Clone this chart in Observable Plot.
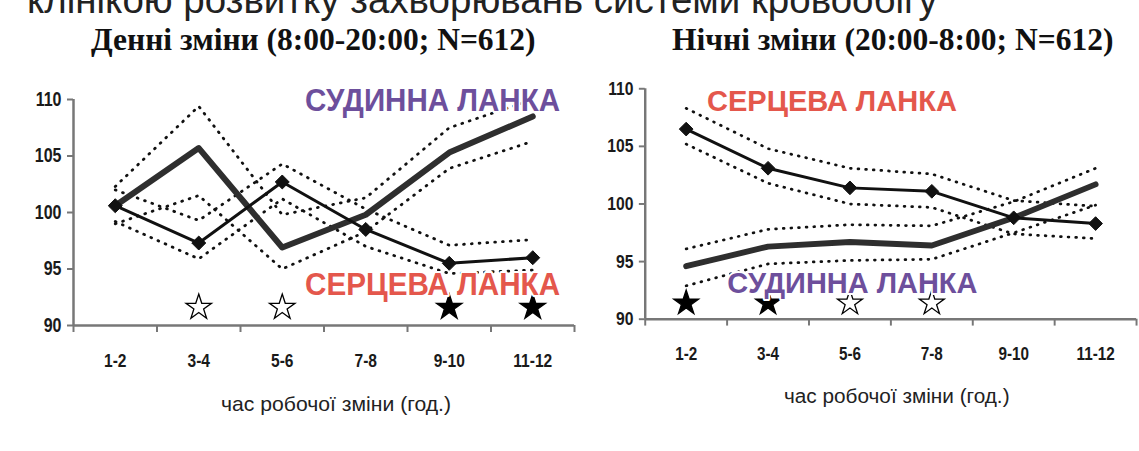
<!DOCTYPE html>
<html><head><meta charset="utf-8">
<script src="https://cdn.jsdelivr.net/npm/d3@7"></script>
<script src="https://cdn.jsdelivr.net/npm/@observablehq/plot@0.6"></script>
<style>
body{margin:0;width:1139px;height:451px;overflow:hidden;background:#fff;position:relative}
.panel{position:absolute;top:0}
.title{position:absolute;font-family:"Liberation Serif","Times New Roman",serif;font-weight:bold;font-size:31.5px;color:#111;white-space:nowrap;line-height:32px}
.top{position:absolute;top:-19px;left:27px;font-family:"Liberation Sans",Arial,sans-serif;font-size:38.5px;color:#222;white-space:nowrap;line-height:38px}
</style></head><body>
<div class="top">клінікою розвитку захворювань системи кровообігу</div>
<div class="title" style="left:91px;top:24px">Денні зміни (8:00-20:00; N=612)</div>
<div class="title" style="left:672px;top:24px">Нічні зміни (20:00-8:00; N=612)</div>
<div id="left" class="panel" style="left:0"></div>
<div id="right" class="panel" style="left:580px"></div>
<script>
const hours = ["1-2","3-4","5-6","7-8","9-10","11-12"];
const yTicks = [90,95,100,105,110];
const xTitle = "час робочої зміни (год.)";
const heartName = "СЕРЦЕВА ЛАНКА";
const vesselName = "СУДИННА ЛАНКА";

// Day shifts
const dayHeart   = [100.6, 97.3, 102.7, 98.5, 95.5, 96.0];
const dayHeartUp = [102.0, 99.3, 104.3, 100.3, 97.1, 97.6];
const dayHeartLo = [99.2, 95.9, 101.2, 97.0, 94.6, 94.9];
const dayVessel   = [100.6, 105.7, 96.9, 99.8, 105.3, 108.5];
const dayVesselUp = [102.3, 109.4, 99.8, 101.3, 107.5, 110.0];
const dayVesselLo = [99.0, 101.5, 95.0, 98.3, 103.9, 106.3];
const dayStars = ["", "open", "open", "", "filled", "filled"];

// Night shifts
const nightHeart   = [106.5, 103.1, 101.4, 101.1, 98.8, 98.3];
const nightHeartUp = [108.3, 104.8, 103.1, 102.6, 100.3, 99.8];
const nightHeartLo = [105.2, 101.8, 100.0, 99.7, 97.4, 97.0];
const nightVessel   = [94.6, 96.3, 96.7, 96.4, 98.8, 101.7];
const nightVesselUp = [96.1, 97.8, 98.2, 98.1, 100.2, 103.1];
const nightVesselLo = [92.9, 94.8, 95.1, 95.2, 97.5, 99.9];
const nightStars = ["filled", "filled", "open", "open", "", ""];

const RED = "#e4574c", PURPLE = "#6d4f9c";
const sans = '"Liberation Sans",Arial,sans-serif';

function rows(arr){ return arr.map((v,i)=>({x:i+1, v})); }

function panel(o){
  const dotted = {x:"x", y:"v", stroke:"#111", strokeWidth:2.8, strokeDasharray:"0.8,7", strokeLinecap:"round"};
  const starRows = o.stars.map((s,i)=>({x:i+1, s})).filter(d=>d.s);
  return Plot.plot({
    width:o.width, height:451,
    marginLeft:o.ml, marginRight:o.mr, marginTop:o.mt, marginBottom:126,
    x:{domain:[0.5,6.5]},
    y:{domain:[90,110]},
    style:{fontFamily:sans, fontSize:"19px", color:"#1a1a1a", background:"transparent", overflow:"visible"},
    marks:[
      Plot.axisY({ticks:yTicks, tickSize:6, tickPadding:6, label:null, stroke:"#777", strokeWidth:2, fontSize:19.5, fontWeight:"bold", className:"cond"}),
      Plot.axisX({ticks:d3.range(0.5,7,1), tickSize:7, tickFormat:()=>"", label:null, stroke:"#777", strokeWidth:2}),
      Plot.axisX({ticks:[1,2,3,4,5,6], tickSize:0, tickPadding:28, tickFormat:i=>hours[i-1], label:null, fontSize:19, fontWeight:"bold", className:"cond"}),
      Plot.ruleX([0.5], {stroke:"#777", strokeWidth:2.5}),
      Plot.ruleY([90], {stroke:"#777", strokeWidth:2.5}),
      Plot.text([xTitle], {frameAnchor:"bottom", dx:o.titleDx, dy:85, fontSize:21, fill:"#222", className:"xtitle"}),
      Plot.lineY(rows(o.heartUp), dotted),
      Plot.lineY(rows(o.heartLo), dotted),
      Plot.lineY(rows(o.vesselUp), dotted),
      Plot.lineY(rows(o.vesselLo), dotted),
      Plot.lineY(rows(o.vessel), {x:"x", y:"v", stroke:"#2e2e2e", strokeWidth:6}),
      Plot.lineY(rows(o.heart), {x:"x", y:"v", stroke:"#111", strokeWidth:3}),
      Plot.dot(rows(o.heart), {x:"x", y:"v", symbol:"diamond2", r:6.3, fill:"#111", stroke:"#111", strokeWidth:1}),
      Plot.dot(starRows, {x:"x", y:()=>o.starY, symbol:"star", r:8, fill:d=>d.s==="filled"?"#000":"#fff", stroke:"#000", strokeWidth:1.3}),
      Plot.text(o.labels, {x:"x", y:"y", text:"t", fill:"c", fontSize:31, fontWeight:"bold", fontFamily:sans, stroke:"#fff", strokeWidth:4, paintOrder:"stroke", className:"biglab"})
    ]
  });
}

function condense(svg){
  svg.querySelectorAll(".cond text").forEach(t=>{
    const w = t.getComputedTextLength();
    if (w>0){ t.setAttribute("textLength", (w*0.82).toFixed(1)); t.setAttribute("lengthAdjust","spacingAndGlyphs"); }
  });
  svg.querySelectorAll(".xtitle text").forEach(t=>{
    t.setAttribute("textLength", "230"); t.setAttribute("lengthAdjust","spacingAndGlyphs");
  });
  svg.querySelectorAll(".biglab text").forEach(t=>{
    t.setAttribute("textLength", "255"); t.setAttribute("lengthAdjust","spacingAndGlyphs");
  });
}

const L = panel({
  width:580, ml:73, mr:6, mt:99, titleDx:12,
  heart:dayHeart, heartUp:dayHeartUp, heartLo:dayHeartLo,
  vessel:dayVessel, vesselUp:dayVesselUp, vesselLo:dayVesselLo,
  stars:dayStars, starY:91.6,
  labels:[{x:4.8, y:109.9, t:vesselName, c:PURPLE},{x:4.8, y:93.6, t:heartName, c:RED}]
});
document.getElementById("left").append(L);
const R = panel({
  width:570, ml:66, mr:3, mt:90, titleDx:6,
  heart:nightHeart, heartUp:nightHeartUp, heartLo:nightHeartLo,
  vessel:nightVessel, vesselUp:nightVesselUp, vesselLo:nightVesselLo,
  stars:nightStars, starY:91.4,
  labels:[{x:2.78, y:108.9, t:heartName, c:RED},{x:3.03, y:93.1, t:vesselName, c:PURPLE}]
});
document.getElementById("right").append(R);
condense(L); condense(R);
</script>
</body></html>
